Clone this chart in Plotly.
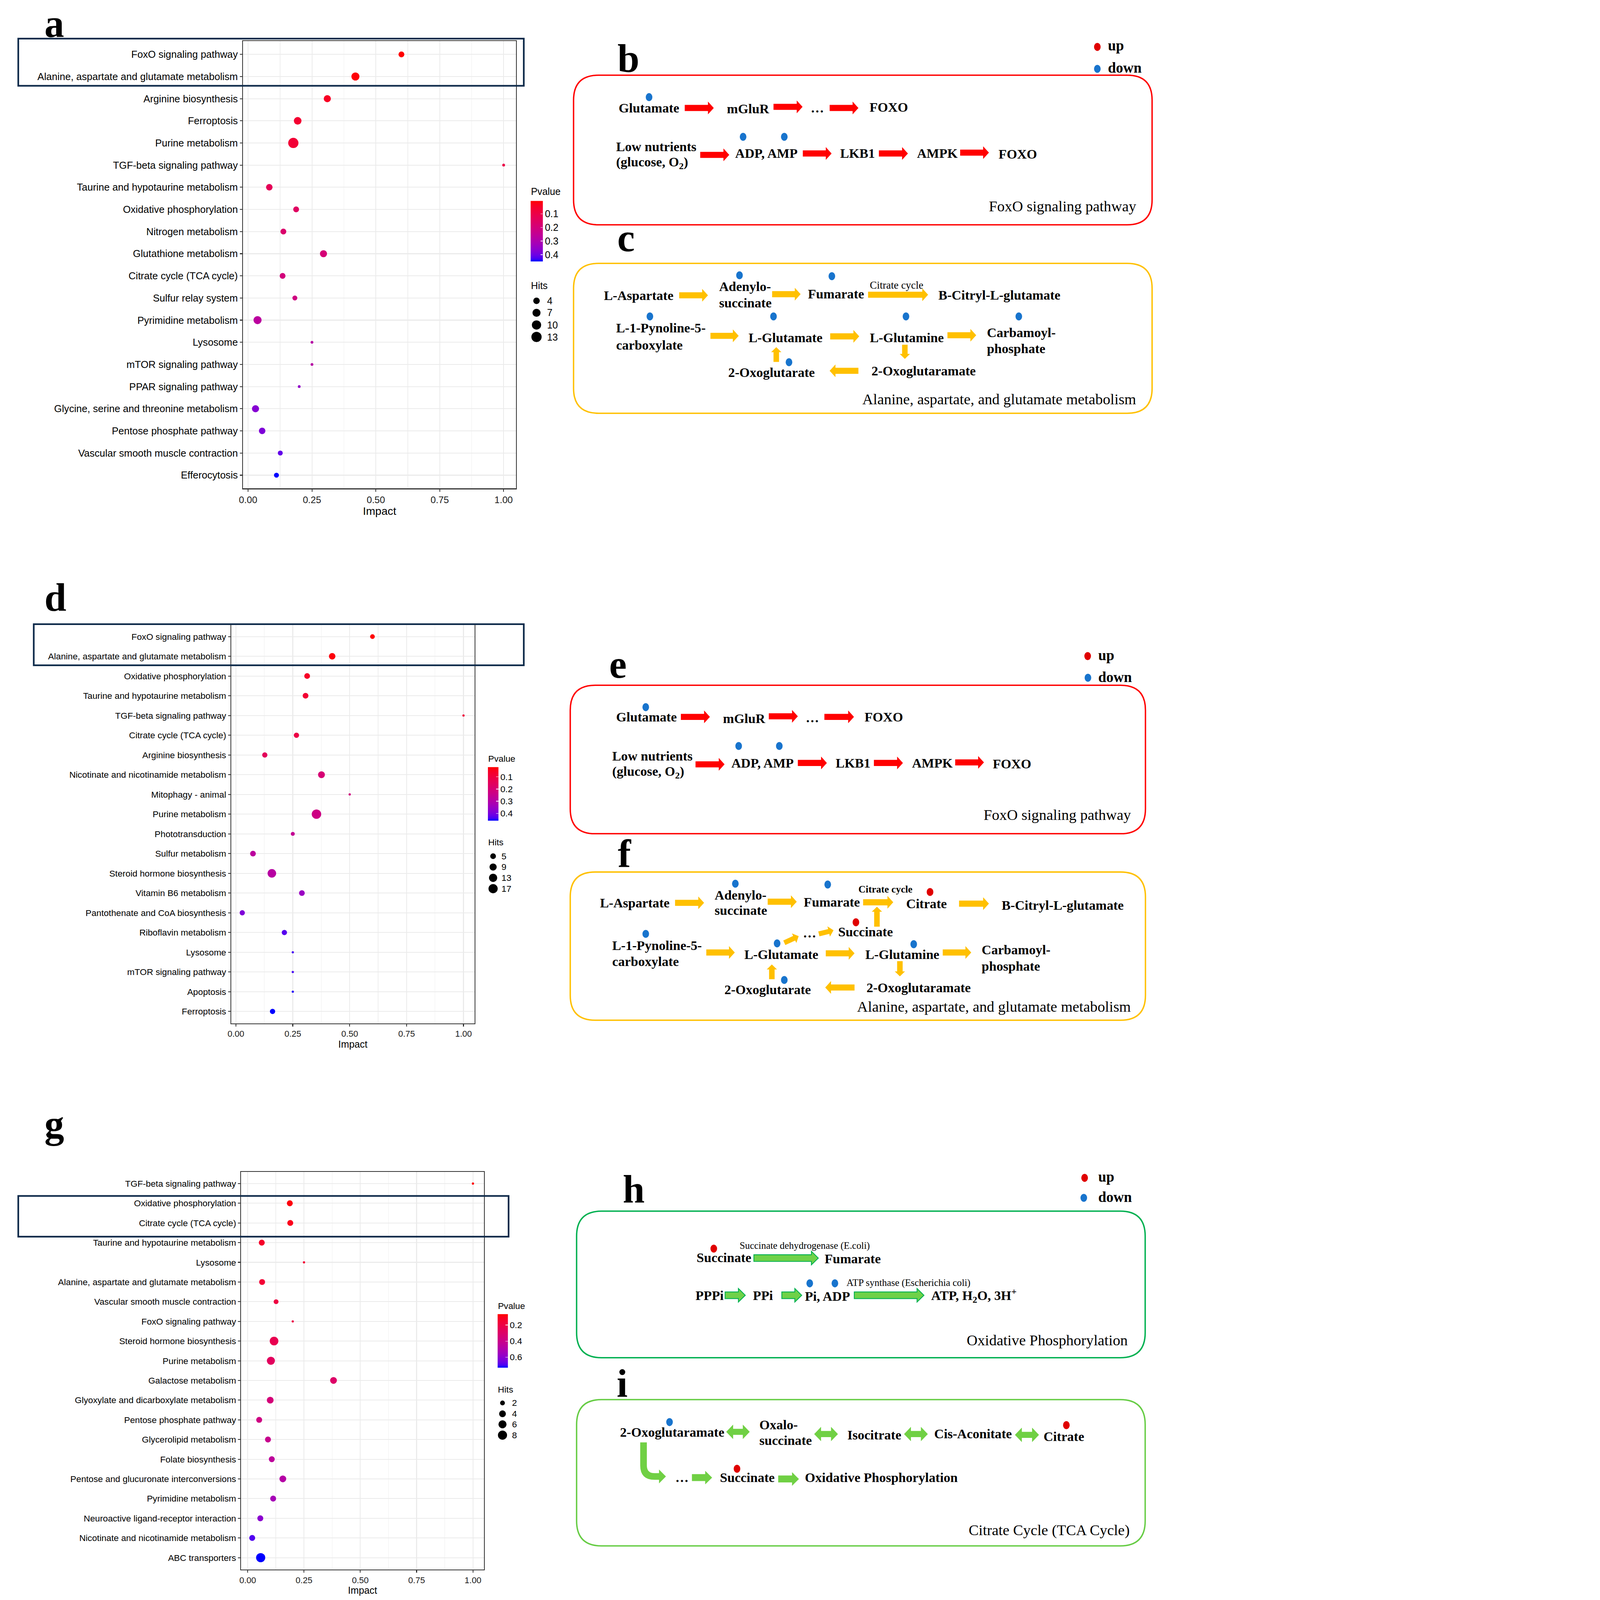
import math
import plotly.graph_objects as go

W, H = 4190, 5765
SANS = "Liberation Sans, Arial, Helvetica, sans-serif"
SERIF = "Liberation Serif, Times New Roman, serif"

# ------------------------------------------------------------------ data
pathways_a = ["FoxO signaling pathway", "Alanine, aspartate and glutamate metabolism",
              "Arginine biosynthesis", "Ferroptosis", "Purine metabolism",
              "TGF-beta signaling pathway", "Taurine and hypotaurine metabolism",
              "Oxidative phosphorylation", "Nitrogen metabolism", "Glutathione metabolism",
              "Citrate cycle (TCA cycle)", "Sulfur relay system", "Pyrimidine metabolism",
              "Lysosome", "mTOR signaling pathway", "PPAR signaling pathway",
              "Glycine, serine and threonine metabolism", "Pentose phosphate pathway",
              "Vascular smooth muscle contraction", "Efferocytosis"]
impact_a = [0.600, 0.420, 0.310, 0.194, 0.177, 1.0, 0.083, 0.188, 0.138, 0.295,
            0.135, 0.183, 0.037, 0.25, 0.25, 0.20, 0.029, 0.055, 0.126, 0.111]
pvalue_a = [0.004, 0.01, 0.04, 0.06, 0.07, 0.10, 0.13, 0.15, 0.17, 0.19,
            0.20, 0.21, 0.27, 0.28, 0.28, 0.35, 0.37, 0.38, 0.41, 0.45]
hits_a = [3, 7, 5, 6, 13, 1, 4, 3, 3, 5, 3, 2, 7, 1, 1, 1, 5, 4, 2, 2]
hits_breaks_a = [4, 7, 10, 13]
p_ticks_a = [0.1, 0.2, 0.3, 0.4]

pathways_d = ["FoxO signaling pathway", "Alanine, aspartate and glutamate metabolism",
              "Oxidative phosphorylation", "Taurine and hypotaurine metabolism",
              "TGF-beta signaling pathway", "Citrate cycle (TCA cycle)", "Arginine biosynthesis",
              "Nicotinate and nicotinamide metabolism", "Mitophagy - animal", "Purine metabolism",
              "Phototransduction", "Sulfur metabolism", "Steroid hormone biosynthesis",
              "Vitamin B6 metabolism", "Pantothenate and CoA biosynthesis", "Riboflavin metabolism",
              "Lysosome", "mTOR signaling pathway", "Apoptosis", "Ferroptosis"]
impact_d = [0.600, 0.423, 0.313, 0.306, 1.0, 0.266, 0.127, 0.376, 0.50, 0.354,
            0.25, 0.075, 0.158, 0.290, 0.028, 0.213, 0.25, 0.25, 0.25, 0.161]
pvalue_d = [0.02, 0.03, 0.06, 0.08, 0.10, 0.11, 0.15, 0.20, 0.22, 0.23,
            0.26, 0.28, 0.29, 0.35, 0.39, 0.43, 0.44, 0.44, 0.45, 0.46]
hits_d = [3, 7, 5, 5, 1, 4, 4, 8, 1, 18, 2, 5, 14, 5, 4, 4, 1, 1, 1, 4]
hits_breaks_d = [5, 9, 13, 17]
p_ticks_d = [0.1, 0.2, 0.3, 0.4]

pathways_g = ["TGF-beta signaling pathway", "Oxidative phosphorylation", "Citrate cycle (TCA cycle)",
              "Taurine and hypotaurine metabolism", "Lysosome",
              "Alanine, aspartate and glutamate metabolism", "Vascular smooth muscle contraction",
              "FoxO signaling pathway", "Steroid hormone biosynthesis", "Purine metabolism",
              "Galactose metabolism", "Glyoxylate and dicarboxylate metabolism",
              "Pentose phosphate pathway", "Glycerolipid metabolism", "Folate biosynthesis",
              "Pentose and glucuronate interconversions", "Pyrimidine metabolism",
              "Neuroactive ligand-receptor interaction", "Nicotinate and nicotinamide metabolism",
              "ABC transporters"]
impact_g = [1.0, 0.187, 0.189, 0.0625, 0.25, 0.064, 0.126, 0.20, 0.117, 0.103,
            0.381, 0.100, 0.051, 0.090, 0.107, 0.156, 0.113, 0.056, 0.020, 0.0576]
pvalue_g = [0.065, 0.08, 0.10, 0.13, 0.15, 0.16, 0.19, 0.20, 0.23, 0.27,
            0.30, 0.35, 0.38, 0.41, 0.45, 0.48, 0.53, 0.60, 0.69, 0.73]
hits_g = [1, 3, 3, 3, 1, 3, 2, 1, 7, 6, 4, 4, 3, 3, 3, 4, 3, 3, 3, 8]
hits_breaks_g = [2, 4, 6, 8]
p_ticks_g = [0.2, 0.4, 0.6]

x_ticks = [0, 0.25, 0.5, 0.75, 1.0]
x_ticktext = ["0.00", "0.25", "0.50", "0.75", "1.00"]
x_minor = [0.125, 0.375, 0.625, 0.875]


# ------------------------------------------------------------------ helpers
def X(px):
    return px / W


def Y(py):
    return 1 - py / H


def _lin(c):
    c = c / 255.0
    return c / 12.92 if c <= 0.04045 else ((c + 0.055) / 1.055) ** 2.4


def _gam(c):
    c = max(0.0, min(1.0, c))
    v = 12.92 * c if c <= 0.0031308 else 1.055 * c ** (1 / 2.4) - 0.055
    return int(round(v * 255))


def _f(t):
    d = 6 / 29
    return t ** (1 / 3) if t > d ** 3 else t / (3 * d * d) + 4 / 29


def _finv(t):
    d = 6 / 29
    return t ** 3 if t > d else 3 * d * d * (t - 4 / 29)


def rgb2lab(rgb):
    r, g, b = [_lin(c) for c in rgb]
    x = 0.4124 * r + 0.3576 * g + 0.1805 * b
    y = 0.2126 * r + 0.7152 * g + 0.0722 * b
    z = 0.0193 * r + 0.1192 * g + 0.9505 * b
    fx, fy, fz = _f(x / 0.95047), _f(y / 1.0), _f(z / 1.08883)
    return 116 * fy - 16, 500 * (fx - fy), 200 * (fy - fz)


def lab2rgb(L, a, b):
    fy = (L + 16) / 116
    fx = fy + a / 500
    fz = fy - b / 200
    x, y, z = 0.95047 * _finv(fx), _finv(fy), 1.08883 * _finv(fz)
    r = 3.2406 * x - 1.5372 * y - 0.4986 * z
    g = -0.9689 * x + 1.8758 * y + 0.0415 * z
    bb = 0.0557 * x - 0.2040 * y + 1.0570 * z
    return "rgb(%d,%d,%d)" % (_gam(r), _gam(g), _gam(bb))


lab_blue = rgb2lab((0, 0, 255))
lab_red = rgb2lab((255, 0, 0))
colorscale = []
for i in range(21):
    t = i / 20
    colorscale.append([t, lab2rgb(*[lab_blue[k] + (lab_red[k] - lab_blue[k]) * t for k in range(3)])])

shapes = []
annotations = []


def add_text(s, x, y, size=48, bold=True, anchor="left", family=SERIF, color="black"):
    t = "<b>%s</b>" % s if bold else s
    annotations.append(dict(text=t, x=X(x), y=Y(y), xref="paper", yref="paper",
                            xanchor=anchor, yanchor="middle", showarrow=False,
                            font=dict(family=family, size=size, color=color), borderpad=0))


def add_dot(cx, cy, color, w=24, h=29):
    shapes.append(dict(type="circle", xref="paper", yref="paper",
                       x0=X(cx - w / 2), x1=X(cx + w / 2), y0=Y(cy + h / 2), y1=Y(cy - h / 2),
                       fillcolor=color, line=dict(width=0), layer="above"))


def P(px, py):
    return "%.6f,%.6f" % (X(px), Y(py))


def poly(pts):
    return "M " + " L ".join(P(a, b) for a, b in pts) + " Z"


def add_arrow(x0, y0, x1, y1, color, bw=22, hw=46, hl=21, outline=None, ow=3):
    dx, dy = x1 - x0, y1 - y0
    L = math.hypot(dx, dy)
    ux, uy = dx / L, dy / L
    nx, ny = -uy, ux
    kx, ky = x1 - ux * hl, y1 - uy * hl
    pts = [(x0 + nx * bw / 2, y0 + ny * bw / 2), (kx + nx * bw / 2, ky + ny * bw / 2),
           (kx + nx * hw / 2, ky + ny * hw / 2), (x1, y1),
           (kx - nx * hw / 2, ky - ny * hw / 2), (kx - nx * bw / 2, ky - ny * bw / 2),
           (x0 - nx * bw / 2, y0 - ny * bw / 2)]
    shapes.append(dict(type="path", path=poly(pts), fillcolor=color, xref="paper", yref="paper",
                       line=dict(color=outline if outline else color, width=ow if outline else 0)))


def add_darrow(x0, x1, y, color, bw=22, hw=52, hl=25):
    pts = [(x0, y), (x0 + hl, y - hw / 2), (x0 + hl, y - bw / 2), (x1 - hl, y - bw / 2),
           (x1 - hl, y - hw / 2), (x1, y), (x1 - hl, y + hw / 2), (x1 - hl, y + bw / 2),
           (x0 + hl, y + bw / 2), (x0 + hl, y + hw / 2)]
    shapes.append(dict(type="path", path=poly(pts), fillcolor=color, xref="paper", yref="paper",
                       line=dict(width=0)))


def add_rrect(x0, y0, x1, y1, r, color, w=5):
    path = ("M {a} L {b} Q {c} {d} L {e} Q {f} {g} L {h} Q {i} {j} L {k} Q {l} {a} Z").format(
        a=P(x0 + r, y0), b=P(x1 - r, y0), c=P(x1, y0), d=P(x1, y0 + r),
        e=P(x1, y1 - r), f=P(x1, y1), g=P(x1 - r, y1), h=P(x0 + r, y1),
        i=P(x0, y1), j=P(x0, y1 - r), k=P(x0, y0 + r), l=P(x0, y0))
    shapes.append(dict(type="path", path=path, xref="paper", yref="paper",
                       line=dict(color=color, width=w), fillcolor="rgba(0,0,0,0)"))


RED_A = "#FF0000"
YEL = "#FFC000"
GRN_FILL = "#6FD148"
GRN_LINE = "#00B050"
GRN_I = "#70D044"
BOX_I = "#66CC44"
DOT_UP = "#E00000"
DOT_DOWN = "#1874CD"
NAVY = "#0E2A4A"

fig = go.Figure()


# ------------------------------------------------------------------ bubble panels
def bubble_panel(k, names, impact, pval, hits, breaks, pticks, frame, fs, cbar, hits_leg, box):
    xa = "x" if k == 1 else "x%d" % k
    ya = "y" if k == 1 else "y%d" % k
    ca = "coloraxis" if k == 1 else "coloraxis%d" % k
    hmin, hmax = min(hits), max(hits)
    dmin, dmax = fs["dmin"], fs["dmax"]

    def dia(h):
        return dmin + (dmax - dmin) * math.sqrt((h - hmin) / (hmax - hmin))

    fig.add_trace(go.Scatter(
        x=impact, y=names, mode="markers", xaxis=xa, yaxis=ya, showlegend=False,
        marker=dict(size=[dia(h) for h in hits], color=[-p for p in pval], coloraxis=ca,
                    line=dict(width=0), opacity=1)))
    left, top, right, bottom = frame
    span = max(impact) - min(impact)
    axis_common = dict(showline=True, mirror=True, linecolor="#333333", linewidth=2.5,
                       ticks="outside", ticklen=9, tickwidth=2.5, tickcolor="#333333",
                       zeroline=False, gridcolor="#EBEBEB", gridwidth=3)
    fig.update_layout(**{
        ("xaxis" if k == 1 else "xaxis%d" % k): dict(
            domain=[X(left), X(right)], anchor=ya, range=[min(impact) - 0.05 * span, max(impact) + 0.05 * span],
            tickvals=x_ticks, ticktext=x_ticktext,
            tickfont=dict(family=SANS, size=fs["xt"], color="#1a1a1a"),
            title=dict(text="Impact", font=dict(family=SANS, size=fs["title"], color="black"), standoff=4),
            minor=dict(tickvals=x_minor, showgrid=True, gridcolor="#EFEFEF", gridwidth=1.6, ticks=""),
            **axis_common),
        ("yaxis" if k == 1 else "yaxis%d" % k): dict(
            domain=[Y(bottom), Y(top)], anchor=xa, type="category", categoryorder="array",
            categoryarray=names, range=[len(names) - 0.4, -0.6],
            tickfont=dict(family=SANS, size=fs["yt"], color="black"), **axis_common),
        ca: dict(colorscale=colorscale, cmin=-max(pval), cmax=-min(pval),
                 colorbar=dict(x=X(cbar["x"]), xanchor="left", y=Y(cbar["top"]), yanchor="top",
                               len=cbar["len"], lenmode="pixels", thickness=cbar["th"],
                               thicknessmode="pixels", xpad=0, ypad=0, outlinewidth=0,
                               tickvals=[-p for p in pticks], ticktext=[str(p) for p in pticks],
                               ticks="inside", ticklen=8, tickwidth=2, tickcolor="white",
                               tickfont=dict(family=SANS, size=fs["leg"], color="black"))),
    })
    add_text("Pvalue", cbar["x"], cbar["title_y"], size=fs["leg"], bold=False, family=SANS)
    add_text("Hits", cbar["x"], hits_leg["title_y"], size=fs["leg"], bold=False, family=SANS)
    for b, yy in zip(breaks, hits_leg["ys"]):
        d = dia(b)
        shapes.append(dict(type="circle", xref="paper", yref="paper",
                           x0=X(hits_leg["cx"] - d / 2), x1=X(hits_leg["cx"] + d / 2),
                           y0=Y(yy + d / 2), y1=Y(yy - d / 2), fillcolor="black", line=dict(width=0)))
        add_text(str(b), hits_leg["tx"], yy, size=fs["leg"], bold=False, family=SANS)
    shapes.append(dict(type="rect", xref="paper", yref="paper", x0=X(box[0]), x1=X(box[2]),
                       y0=Y(box[3]), y1=Y(box[1]), line=dict(color=NAVY, width=6),
                       fillcolor="rgba(0,0,0,0)", layer="above"))


bubble_panel(1, pathways_a, impact_a, pvalue_a, hits_a, hits_breaks_a, p_ticks_a,
             (864, 148, 1851, 1760),
             dict(dmin=10, dmax=37, xt=34, yt=36, title=40, leg=35),
             dict(x=1904, top=724, len=218, th=44, title_y=690),
             dict(title_y=1029, ys=[1084, 1127, 1171, 1214], cx=1925, tx=1962),
             (51, 139, 1879, 309))
bubble_panel(2, pathways_d, impact_d, pvalue_d, hits_d, hits_breaks_d, p_ticks_d,
             (821, 2251, 1701, 3687),
             dict(dmin=8, dmax=34, xt=31, yt=32, title=35, leg=32),
             dict(x=1749, top=2764, len=193, th=38, title_y=2734),
             dict(title_y=3035, ys=[3085, 3124, 3163, 3202], cx=1768, tx=1797),
             (107, 2249, 1879, 2397))
bubble_panel(3, pathways_g, impact_g, pvalue_g, hits_g, hits_breaks_g, p_ticks_g,
             (857, 4222, 1735, 5655),
             dict(dmin=8, dmax=33, xt=31, yt=32, title=35, leg=32),
             dict(x=1784, top=4735, len=193, th=37, title_y=4705),
             dict(title_y=5007, ys=[5055, 5094, 5132, 5171], cx=1802, tx=1836),
             (51, 4309, 1824, 4456))

# ------------------------------------------------------------------ panel letters
for letter, cx, base in [("a", 181, 132), ("b", 2258, 259), ("c", 2249, 905), ("d", 185, 2201),
                         ("e", 2219, 2442), ("f", 2244, 3124), ("g", 181, 4098),
                         ("h", 2277, 4334), ("i", 2235, 5033)]:
    add_text(letter, cx, base - 0.34 * 142, size=142, anchor="center")


def up_down(rx, ry, bx, by, tx, ty_up, ty_down):
    add_dot(rx, ry, DOT_UP)
    add_dot(bx, by, DOT_DOWN)
    add_text("up", tx, ty_up, size=52)
    add_text("down", tx, ty_down, size=52)


# ------------------------------------------------------------------ panel b / e (FoxO)
def foxo_panel(box, rows):
    add_rrect(*box, r=90, color="#FF0000", w=5)
    for t, x, y in rows["texts"]:
        add_text(t, x, y)
    for x0, x1, y in rows["arrows"]:
        add_arrow(x0, y, x1, y, RED_A)
    for x, y in rows["dots"]:
        add_dot(x, y, DOT_DOWN)
    add_text("FoxO signaling pathway", rows["title"][0], rows["title"][1], size=54, bold=False, anchor="right")


foxo_panel((2059, 271, 4151, 810), dict(
    texts=[("Glutamate", 2221, 389), ("mGluR", 2612, 391), ("…", 2915, 389), ("FOXO", 3128, 386),
           ("Low nutrients", 2212, 528), ("(glucose, O<sub>2</sub>)", 2212, 586),
           ("ADP, AMP", 2642, 553), ("LKB1", 3022, 553), ("AMPK", 3300, 553), ("FOXO", 3595, 555)],
    arrows=[(2461, 2566, 389), (2782, 2887, 385), (2985, 3089, 389), (2517, 2622, 558),
            (2888, 2992, 553), (3163, 3268, 553), (3457, 3561, 550)],
    dots=[(2332, 350), (2672, 493), (2821, 493)],
    title=(4095, 743)))
up_down(3953, 169, 3953, 248, 3990, 165, 245)

foxo_panel((2047, 2469, 4127, 3004), dict(
    texts=[("Glutamate", 2212, 2583), ("mGluR", 2598, 2588), ("…", 2897, 2585), ("FOXO", 3110, 2583),
           ("Low nutrients", 2198, 2724), ("(glucose, O<sub>2</sub>)", 2198, 2782),
           ("ADP, AMP", 2628, 2749), ("LKB1", 3006, 2749), ("AMPK", 3282, 2749), ("FOXO", 3574, 2752)],
    arrows=[(2447, 2552, 2583), (2765, 2870, 2581), (2966, 3073, 2583), (2500, 2605, 2754),
            (2870, 2975, 2749), (3145, 3250, 2749), (3439, 3543, 2747)],
    dots=[(2320, 2548), (2656, 2688), (2803, 2688)],
    title=(4076, 2936)))
up_down(3918, 2364, 3919, 2442, 3955, 2360, 2440)

# ------------------------------------------------------------------ panel c
add_rrect(2059, 949, 4151, 1489, 90, YEL, 5)
for t, x, y in [("L-Aspartate", 2168, 1064), ("Adenylo-", 2584, 1032), ("succinate", 2584, 1091),
                ("Fumarate", 2905, 1060), ("B-Citryl-L-glutamate", 3377, 1062),
                ("L-1-Pynoline-5-", 2212, 1182), ("carboxylate", 2212, 1242),
                ("L-Glutamate", 2691, 1216), ("L-Glutamine", 3129, 1216),
                ("Carbamoyl-", 3553, 1198), ("phosphate", 3553, 1256),
                ("2-Oxoglutaramate", 3135, 1336), ("2-Oxoglutarate", 2617, 1342)]:
    add_text(t, x, y)
add_text("Citrate cycle", 3129, 1027, size=38, bold=False)
for x0, y0, x1, y1 in [(2441, 1064, 2545, 1064), (2777, 1060, 2880, 1060), (3124, 1062, 3341, 1062),
                       (2554, 1210, 2656, 1210), (2987, 1212, 3092, 1212), (3411, 1208, 3515, 1208),
                       (3089, 1336, 2985, 1336)]:
    add_arrow(x0, y0, x1, y1, YEL)
add_arrow(3257, 1242, 3257, 1293, YEL, bw=20, hw=37, hl=18)
add_arrow(2792, 1304, 2792, 1251, YEL, bw=20, hw=37, hl=18)
for x, y in [(2659, 992), (2993, 995), (2335, 1140), (2782, 1140), (3261, 1140), (3669, 1140), (2838, 1305)]:
    add_dot(x, y, DOT_DOWN)
add_text("Alanine, aspartate, and glutamate metabolism", 4095, 1439, size=54, bold=False, anchor="right")

# ------------------------------------------------------------------ panel f
add_rrect(2047, 3142, 4127, 3676, 90, YEL, 5)
for t, x, y in [("L-Aspartate", 2154, 3253), ("Adenylo-", 2568, 3224), ("succinate", 2568, 3279),
                ("Fumarate", 2890, 3250), ("Citrate", 3261, 3256), ("B-Citryl-L-glutamate", 3606, 3261),
                ("Succinate", 3015, 3357), ("…", 2887, 3361),
                ("L-1-Pynoline-5-", 2198, 3406), ("carboxylate", 2198, 3464),
                ("L-Glutamate", 2676, 3438), ("L-Glutamine", 3113, 3438),
                ("Carbamoyl-", 3534, 3422), ("phosphate", 3534, 3480),
                ("2-Oxoglutaramate", 3117, 3558), ("2-Oxoglutarate", 2603, 3565)]:
    add_text(t, x, y)
add_text("Citrate cycle", 3088, 3204, size=36)
for x0, y0, x1, y1 in [(2426, 3253, 2531, 3253), (2761, 3249, 2866, 3249), (3106, 3251, 3215, 3251),
                       (3453, 3256, 3561, 3256), (2539, 3432, 2642, 3432), (2971, 3435, 3075, 3435),
                       (3394, 3432, 3497, 3432), (3075, 3558, 2969, 3558)]:
    add_arrow(x0, y0, x1, y1, YEL)
add_arrow(3156, 3339, 3156, 3267, YEL, bw=20, hw=37, hl=18)
add_arrow(3239, 3463, 3239, 3518, YEL, bw=20, hw=37, hl=18)
add_arrow(2776, 3528, 2776, 3475, YEL, bw=20, hw=37, hl=18)
add_arrow(2821, 3397, 2873, 3373, YEL, bw=18, hw=38, hl=18)
add_arrow(2946, 3365, 2999, 3352, YEL, bw=18, hw=38, hl=18)
for x, y in [(2644, 3184), (2978, 3187), (2320, 3365), (2795, 3399), (3289, 3402), (2821, 3531)]:
    add_dot(x, y, DOT_DOWN)
for x, y in [(3348, 3214), (3080, 3323)]:
    add_dot(x, y, DOT_UP)
add_text("Alanine, aspartate, and glutamate metabolism", 4076, 3628, size=54, bold=False, anchor="right")

# ------------------------------------------------------------------ panel h
add_rrect(2070, 4364, 4126, 4892, 90, GRN_LINE, 5)
for t, x, y in [("Succinate", 2503, 4530), ("Fumarate", 2966, 4535), ("PPPi", 2499, 4667),
                ("PPi", 2707, 4667), ("Pi, ADP", 2894, 4670),
                ("ATP, H<sub>2</sub>O, 3H<sup>+</sup>", 3351, 4667)]:
    add_text(t, x, y)
add_text("Succinate dehydrogenase (E.coli)", 2659, 4487, size=35, bold=False)
add_text("ATP synthase (Escherichia coli)", 3045, 4621, size=35, bold=False)
for x0, x1, y in [(2711, 2944, 4533), (2607, 2680, 4667), (2812, 2884, 4667), (3074, 3326, 4667)]:
    add_arrow(x0, y, x1, y, GRN_FILL, bw=24, hw=49, hl=25, outline=GRN_LINE, ow=3)
add_dot(2566, 4499, DOT_UP)
add_dot(2913, 4624, DOT_DOWN)
add_dot(3004, 4624, DOT_DOWN)
add_text("Oxidative Phosphorylation", 4064, 4829, size=54, bold=False, anchor="right")
up_down(3907, 4244, 3904, 4316, 3955, 4240, 4313)

# ------------------------------------------------------------------ panel i
add_rrect(2070, 5043, 4126, 5570, 90, BOX_I, 5)
for t, x, y in [("2-Oxoglutaramate", 2226, 5160), ("Oxalo-", 2730, 5133), ("succinate", 2730, 5189),
                ("Isocitrate", 3048, 5170), ("Cis-Aconitate", 3362, 5165), ("Citrate", 3757, 5175),
                ("…", 2426, 5323), ("Succinate", 2587, 5323), ("Oxidative Phosphorylation", 2894, 5323)]:
    add_text(t, x, y)
for x0, x1, y in [(2611, 2696, 5159), (2929, 3015, 5167), (3254, 3340, 5167), (3655, 3742, 5170)]:
    add_darrow(x0, x1, y, GRN_I)
add_arrow(2487, 5324, 2560, 5324, GRN_I, bw=25, hw=49, hl=25)
add_arrow(2799, 5329, 2874, 5329, GRN_I, bw=25, hw=49, hl=25)
bent = ("M {a} L {b} L {c} Q {d} {e} L {f} L {g} L {h} L {i} L {j} L {k} Q {l} {m} Z").format(
    a=P(2300, 5197), b=P(2324, 5197), c=P(2324, 5280), d=P(2324, 5308), e=P(2352, 5308),
    f=P(2368, 5308), g=P(2368, 5295), h=P(2393, 5320), i=P(2368, 5345), j=P(2368, 5332),
    k=P(2352, 5332), l=P(2300, 5332), m=P(2300, 5280))
shapes.append(dict(type="path", path=bent, fillcolor=GRN_I, line=dict(width=0), xref="paper", yref="paper"))
add_dot(2406, 5124, DOT_DOWN)
add_dot(3841, 5135, DOT_UP)
add_dot(2650, 5292, DOT_UP)
add_text("Citrate Cycle (TCA Cycle)", 4071, 5514, size=54, bold=False, anchor="right")

fig.update_layout(width=W, height=H, margin=dict(l=0, r=0, t=0, b=0, pad=0),
                  paper_bgcolor="white", plot_bgcolor="white",
                  shapes=shapes, annotations=annotations, showlegend=False,
                  font=dict(family=SANS, color="black"))

# keep the whole figure inside the browser viewport (scale down only if the window is smaller)
fit_js = """
(function(){
  var gd = document.getElementById('{plot_id}');
  document.documentElement.style.overflow = 'hidden';
  document.body.style.overflow = 'hidden';
  document.body.style.margin = '0px';
  var s = Math.min(window.innerWidth / %d, window.innerHeight / %d, 1);
  if (s < 1) {
    gd.style.transformOrigin = '0 0';
    gd.style.transform = 'scale(' + s + ')';
  }
})();
""" % (W, H)

fig.write_html("out.html", post_script=fit_js, config={"displayModeBar": False})
